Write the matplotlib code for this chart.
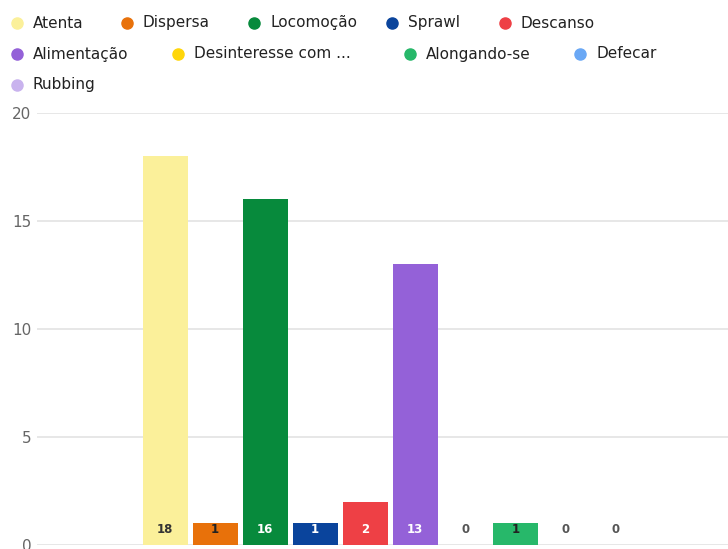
import matplotlib.pyplot as plt

# data
categories = ["Atenta", "Dispersa", "Locomoção", "Sprawl", "Descanso",
              "Alimentação", "Desinteresse com ...", "Alongando-se", "Defecar", "Rubbing"]
values = [18, 1, 16, 1, 2, 13, 0, 1, 0, 0]
colors = ["#FBF09A", "#E8710A", "#078A3C", "#0A449C", "#EE4045",
          "#9461D8", "#FFD60A", "#27B86A", "#6AA8F5", "#C9B3EE"]
label_colors = ["#333333", "#222222", "#ffffff", "#ffffff", "#ffffff",
                "#ffffff", "#555555", "#222222", "#555555", "#555555"]
y_ticks = [0, 5, 10, 15, 20]

# legend layout: rows of category indices and marker x positions (pixels)
legend_rows = [[0, 1, 2, 3, 4], [5, 6, 7, 8], [9]]
legend_x = [[17, 127, 254, 392, 505], [17, 178, 410, 580], [17]]
legend_y = [23, 54, 85]

W, H = 728, 549
fig = plt.figure(figsize=(W / 100, H / 100), dpi=100)
ax = fig.add_axes([37 / W, (H - 545) / H, (W - 37) / W, (545 - 113) / H])

x = list(range(len(categories)))
ax.bar(x, values, width=0.9, color=colors, zorder=3)

# value labels near the bottom of each bar
for i, v in enumerate(values):
    ax.text(i, 0.7, str(v), ha="center", va="center", fontsize=8.5,
            fontweight="bold", color=label_colors[i], zorder=4)

ax.set_xlim(-2.56, 11.25)
ax.set_ylim(0, 20)
ax.set_yticks(y_ticks)
ax.set_xticks([])
ax.yaxis.grid(True, color="#e3e3e3", linewidth=1.2, zorder=0)
ax.tick_params(axis="y", length=0, pad=4, labelsize=11, labelcolor="#666666")
for s in ax.spines.values():
    s.set_visible(False)

# legend drawn as markers + text in figure pixels
for row, xs, yy in zip(legend_rows, legend_x, legend_y):
    for idx, xx in zip(row, xs):
        fig.lines.append(plt.Line2D([xx / W], [1 - yy / H], marker="o", markersize=8,
                                    color=colors[idx], linestyle="none",
                                    transform=fig.transFigure))
        fig.text((xx + 16) / W, 1 - yy / H, categories[idx], ha="left", va="center",
                 fontsize=11, color="#222222")

fig.savefig("out.png", dpi=100)
